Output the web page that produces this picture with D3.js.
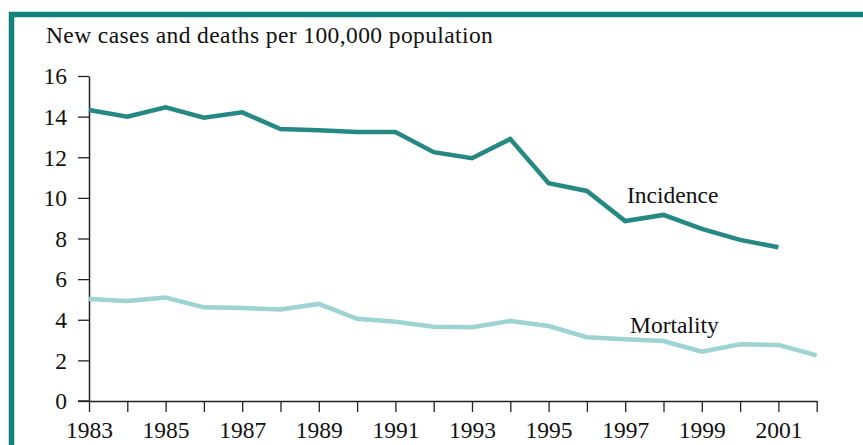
<!DOCTYPE html>
<html>
<head>
<meta charset="utf-8">
<script src="https://cdn.jsdelivr.net/npm/d3@7"></script>
<style>
  html, body { margin: 0; padding: 0; background: #fff; }
  svg { display: block; }
  text { font-family: "Liberation Serif", "Times New Roman", serif; fill: #111; }
</style>
</head>
<body>
<svg id="chart" width="863" height="445"></svg>
<script>
const years = [1983,1984,1985,1986,1987,1988,1989,1990,1991,1992,1993,1994,1995,1996,1997,1998,1999,2000,2001,2002];
const incidence = [14.33,14.0,14.46,13.95,14.21,13.39,13.33,13.24,13.24,12.25,11.95,12.9,10.72,10.34,8.86,9.16,8.47,7.93,7.57,null];
const mortality = [5.02,4.92,5.09,4.61,4.58,4.51,4.78,4.05,3.9,3.66,3.63,3.94,3.69,3.14,3.04,2.95,2.43,2.79,2.76,2.25];
const yTicks = [0,2,4,6,8,10,12,14,16];
const xLabelYears = [1983,1985,1987,1989,1991,1993,1995,1997,1999,2001];
const yTitle = "New cases and deaths per 100,000 population";
const seriesLabels = ["Incidence", "Mortality"];

const svg = d3.select("#chart");
const fs = 23.5;

// frame
svg.append("rect").attr("x", 11.5).attr("y", 14.5).attr("width", 900).attr("height", 500)
  .attr("fill", "none").attr("stroke", "#11827c").attr("stroke-width", 5.5);

const x = d3.scaleLinear().domain([1983, 2002]).range([89, 816.7]);
const y = d3.scaleLinear().domain([0, 16]).range([401, 76]);

// y axis
const yAxis = d3.axisLeft(y).tickValues(yTicks).tickSize(11).tickPadding(11).tickSizeOuter(0);
const gy = svg.append("g").attr("transform", `translate(${x(1983)},0)`).call(yAxis);
gy.select(".domain").attr("stroke", "#222").attr("stroke-width", 1.5);
gy.selectAll(".tick line").attr("stroke", "#222").attr("stroke-width", 1.3);
gy.selectAll(".tick text").attr("font-size", fs).attr("font-family", "Liberation Serif").attr("fill", "#111").attr("dy", "0.33em");

// x axis
const xAxis = d3.axisBottom(x).tickValues(years).tickSize(11).tickPadding(9).tickSizeOuter(0)
  .tickFormat(d => xLabelYears.includes(d) ? String(d) : "");
const gx = svg.append("g").attr("transform", `translate(0,${y(0)})`).call(xAxis);
gx.select(".domain").attr("stroke", "#222").attr("stroke-width", 1.5);
gx.selectAll(".tick line").attr("stroke", "#222").attr("stroke-width", 1.3);
gx.selectAll(".tick text").attr("font-size", fs).attr("font-family", "Liberation Serif").attr("fill", "#111");
// extend x axis line left to meet tick of 0
gx.append("line").attr("x1", x(1983) - 11).attr("x2", x(1983)).attr("y1", 0).attr("y2", 0)
  .attr("stroke", "#222").attr("stroke-width", 1.5);

// title
svg.append("text").attr("x", 46).attr("y", 43).attr("font-size", fs)
  .attr("letter-spacing", 0.4).text(yTitle);

const line = d3.line().defined(d => d.v != null).x(d => x(d.yr)).y(d => y(d.v));

svg.append("path").datum(years.map((yr, i) => ({yr, v: mortality[i]})))
  .attr("d", line).attr("fill", "none").attr("stroke", "#9dd3d2").attr("stroke-width", 4.5)
  .attr("stroke-linejoin", "miter");
svg.append("path").datum(years.map((yr, i) => ({yr, v: incidence[i]})))
  .attr("d", line).attr("fill", "none").attr("stroke", "#268883").attr("stroke-width", 4.5)
  .attr("stroke-linejoin", "miter");

svg.append("text").attr("x", 627).attr("y", 203).attr("font-size", fs).text(seriesLabels[0]);
svg.append("text").attr("x", 630).attr("y", 333).attr("font-size", fs).text(seriesLabels[1]);
</script>
</body>
</html>
